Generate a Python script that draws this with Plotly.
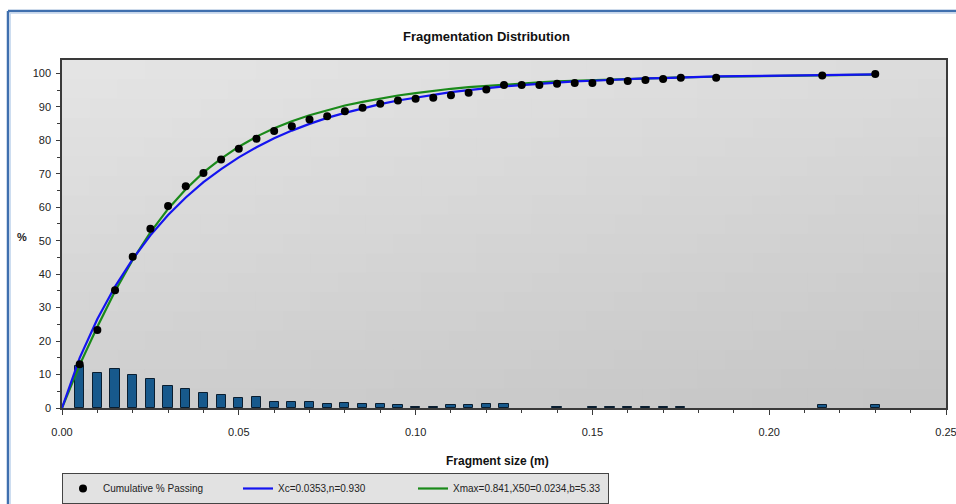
import plotly.graph_objects as go

# ---- data -------------------------------------------------------------
# fragment-size classes (m) and the share of each class (%)
bin_size = [0.005, 0.010, 0.015, 0.020, 0.025, 0.030, 0.035, 0.040, 0.045, 0.050,
            0.055, 0.060, 0.065, 0.070, 0.075, 0.080, 0.085, 0.090, 0.095, 0.100,
            0.105, 0.110, 0.115, 0.120, 0.125, 0.140, 0.150, 0.155, 0.160, 0.165,
            0.170, 0.175, 0.215, 0.230]
bin_pct = [12.7, 10.6, 11.7, 9.9, 8.8, 6.6, 5.6, 4.4, 4.0, 3.0,
           3.3, 1.8, 1.8, 1.9, 1.2, 1.6, 1.2, 1.2, 0.9, 0.4,
           0.4, 0.9, 0.9, 1.3, 1.3, 0.4, 0.4, 0.4, 0.4, 0.4,
           0.4, 0.4, 0.9, 0.9]

# measured cumulative % passing
sieve_size = [0.005, 0.010, 0.015, 0.020, 0.025, 0.030, 0.035, 0.040, 0.045, 0.050,
              0.055, 0.060, 0.065, 0.070, 0.075, 0.080, 0.085, 0.090, 0.095, 0.100,
              0.105, 0.110, 0.115, 0.120, 0.125, 0.130, 0.135, 0.140, 0.145, 0.150,
              0.155, 0.160, 0.165, 0.170, 0.175, 0.185, 0.215, 0.230]
passing = [13.1, 23.3, 35.2, 45.2, 53.6, 60.4, 66.3, 70.2, 74.3, 77.5,
           80.5, 82.8, 84.2, 86.2, 87.2, 88.7, 89.7, 90.9, 91.9, 92.4,
           92.7, 93.5, 94.2, 95.2, 96.5, 96.5, 96.5, 96.9, 97.1, 97.1,
           97.7, 97.7, 98.0, 98.3, 98.7, 98.7, 99.4, 99.8]

# fitted curves, sampled along the size axis
fit_size = [0.0] + sieve_size
rr_fit = [0.0, 15.0, 26.6, 36.3, 44.5, 51.6, 57.7, 62.9, 67.5, 71.4, 74.9,
          77.9, 80.6, 82.9, 84.9, 86.7, 88.2, 89.6, 90.8, 91.9, 92.8,
          93.6, 94.4, 95.0, 95.6, 96.1, 96.5, 96.9, 97.3, 97.6, 97.8,
          98.1, 98.3, 98.5, 98.6, 98.8, 99.1, 99.5, 99.7]
swebrec_fit = [0.0, 12.9, 24.3, 34.9, 44.3, 52.5, 59.5, 65.4, 70.4, 74.5, 78.1,
               81.1, 83.6, 85.7, 87.5, 89.0, 90.4, 91.5, 92.5, 93.4, 94.1,
               94.8, 95.4, 95.9, 96.3, 96.7, 97.0, 97.3, 97.6, 97.8, 98.0,
               98.2, 98.4, 98.5, 98.7, 98.8, 99.0, 99.4, 99.6]

x_ticks = [0.00, 0.05, 0.10, 0.15, 0.20, 0.25]
y_ticks = [0, 10, 20, 30, 40, 50, 60, 70, 80, 90, 100]

# ---- figure -----------------------------------------------------------
FONT = "Liberation Sans, Arial, sans-serif"

fig = go.Figure()

fig.add_trace(go.Bar(
    x=bin_size, y=bin_pct, width=0.0026,
    marker=dict(color="#17598c", line=dict(color="#0a1e30", width=1)),
    showlegend=False, hoverinfo="x+y",
))
fig.add_trace(go.Scatter(
    x=fit_size, y=swebrec_fit, mode="lines",
    line=dict(color="#1a8a1a", width=2.2),
    name="Xmax=0.841,X50=0.0234,b=5.33", legendrank=3, legendwidth=150,
))
fig.add_trace(go.Scatter(
    x=fit_size, y=rr_fit, mode="lines",
    line=dict(color="#1414f0", width=2.2),
    name="Xc=0.0353,n=0.930", legendrank=2,
))
fig.add_trace(go.Scatter(
    x=sieve_size, y=passing, mode="markers",
    marker=dict(color="black", size=8, symbol="circle"),
    name="Cumulative % Passing", legendrank=1,
))

# plot-area background: soft grey gradient (light top-left, darker bottom-right)
shapes = []
NX, NY = 32, 18
c_light, c_dark = 229, 197
for i in range(NX):
    for j in range(NY):
        t = 0.72 * ((j + 0.5) / NY) + 0.28 * (1 - (i + 0.5) / NX)
        g = round(c_dark + (c_light - c_dark) * t)
        shapes.append(dict(
            type="rect", xref="paper", yref="paper", layer="below",
            x0=i / NX, x1=(i + 1) / NX + 0.002, y0=j / NY, y1=(j + 1) / NY + 0.002,
            fillcolor=f"rgb({g},{g},{g})", line=dict(width=0),
        ))

# outer window frame (left and top edges)
fx0, fy1 = (8 - 62) / 884, (408 - 11) / 348
fx1, fy0 = (956 - 62) / 884, (408 - 504) / 348
for col, w, off in [("#3f6fae", 2.5, 0.0), ("#b9cfea", 1, 0.0025)]:
    shapes.append(dict(type="line", xref="paper", yref="paper",
                       x0=fx0 + off, x1=fx0 + off, y0=fy0, y1=fy1 - off * 2.5,
                       line=dict(color=col, width=w)))
    shapes.append(dict(type="line", xref="paper", yref="paper",
                       x0=fx0 + off, x1=fx1, y0=fy1 - off * 2.5, y1=fy1 - off * 2.5,
                       line=dict(color=col, width=w)))

axis_common = dict(showgrid=False, zeroline=False, linecolor="#3a3a3a", linewidth=1.5,
                   tickcolor="#3a3a3a", tickwidth=1)

fig.update_layout(
    width=956, height=504,
    margin=dict(l=62, r=10, t=60, b=96, autoexpand=False),
    paper_bgcolor="white", plot_bgcolor="#d6d6d6",
    font=dict(family=FONT, size=11, color="#222222"),
    bargap=0,
    xaxis=dict(range=[0, 0.25], tickvals=x_ticks, tickformat=".2f",
               ticks="outside", ticklen=5, showline=True, mirror=True,
               ticklabelstandoff=8, ticklabeloverflow="allow",
               minor=dict(dtick=0.01, tick0=0, ticks="outside", ticklen=3,
                          tickcolor="#3a3a3a"),
               tickfont=dict(size=11), **axis_common),
    yaxis=dict(range=[0, 104], tickvals=y_ticks, ticks="outside", ticklen=4,
               showline=True, mirror=True, ticklabelstandoff=3,
               minor=dict(dtick=5, tick0=0, ticks="outside", ticklen=3,
                          tickcolor="#3a3a3a"),
               tickfont=dict(size=11), **axis_common),
    xaxis2=dict(range=[0, 0.25], overlaying="x", side="top", anchor="y",
                tickvals=x_ticks, showticklabels=False, ticks="inside", ticklen=6,
                minor=dict(dtick=0.01, tick0=0, ticks="inside", ticklen=4,
                           tickcolor="#3a3a3a"),
                **axis_common),
    yaxis2=dict(range=[0, 104], overlaying="y", side="right", anchor="x",
                tickvals=y_ticks, showticklabels=False, ticks="inside", ticklen=4,
                minor=dict(dtick=5, tick0=0, ticks="inside", ticklen=3,
                           tickcolor="#3a3a3a"),
                **axis_common),
    shapes=shapes,
    legend=dict(orientation="h", x=0, xanchor="left", y=(408 - 473) / 348, yanchor="top",
                bgcolor="#e2e2e2", bordercolor="#444444", borderwidth=1,
                font=dict(family=FONT, size=10, color="#222222"),
                entrywidth=130, entrywidthmode="pixels",
                tracegroupgap=0, itemwidth=30),
    annotations=[
        dict(text="<b>Fragmentation Distribution</b>", xref="paper", yref="paper",
             x=(486 - 62) / 884, y=(408 - 36) / 348, showarrow=False,
             xanchor="center", yanchor="middle", font=dict(size=13, color="#111111")),
        dict(text="<b>Fragment size (m)</b>", xref="paper", yref="paper",
             x=(497 - 62) / 884, y=(408 - 461) / 348, showarrow=False,
             xanchor="center", yanchor="middle", font=dict(size=12, color="#111111")),
        dict(text="<b>%</b>", xref="paper", yref="paper",
             x=(22 - 62) / 884, y=(408 - 237) / 348, showarrow=False,
             xanchor="center", yanchor="middle", font=dict(size=11, color="#222222")),
    ],
)

fig.write_html("out.html")
